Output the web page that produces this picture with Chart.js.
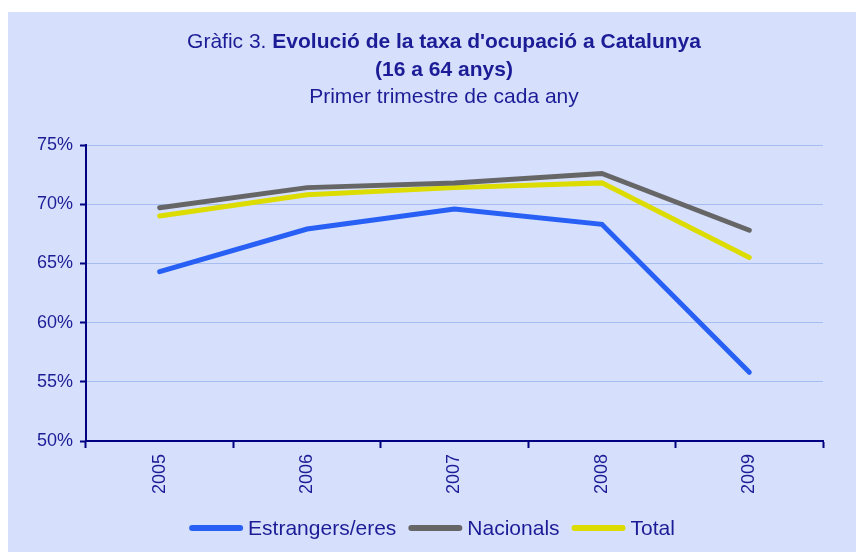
<!DOCTYPE html>
<html>
<head>
<meta charset="utf-8">
<script src="https://cdn.jsdelivr.net/npm/chart.js@4.4.1/dist/chart.umd.min.js"></script>
<style>
  html, body { margin: 0; padding: 0; background: #ffffff; }
  #wrap { width: 856px; height: 552px; position: relative; }
</style>
</head>
<body>
<div id="wrap"><canvas id="chart" width="856" height="552"></canvas></div>
<script>
// Chart data
const years = ['2005', '2006', '2007', '2008', '2009'];
const estrangers = [64.3, 67.9, 69.6, 68.3, 55.8];
const nacionals = [69.7, 71.4, 71.8, 72.6, 67.8];
const total = [69.0, 70.8, 71.4, 71.8, 65.5];
const yTicks = [50, 55, 60, 65, 70, 75];

const titlePrefix = 'Gràfic 3. ';
const titleMain = "Evolució de la taxa d'ocupació a Catalunya";
const titleLine2 = '(16 a 64 anys)';
const subtitle = 'Primer trimestre de cada any';

const FONT = '"Liberation Sans", Arial, sans-serif';
const NAVY = '#1c1c96';
const AXIS = '#000080';
const GRID = '#a6bdf2';

// Light blue panel, title block and a legend with short swatch gaps
const panelPlugin = {
  id: 'panel',
  beforeDraw(chart) {
    const ctx = chart.ctx;
    ctx.save();
    ctx.fillStyle = '#d6e0fc';
    ctx.fillRect(8, 12, chart.width - 8, chart.height - 12);
    ctx.restore();
  },
  afterDraw(chart) {
    const ctx = chart.ctx;
    const cx = 444;
    ctx.save();
    ctx.fillStyle = NAVY;
    ctx.textBaseline = 'middle';
    // first line: normal prefix + bold title
    ctx.font = '21px ' + FONT;
    const w1 = ctx.measureText(titlePrefix).width;
    ctx.font = 'bold 21px ' + FONT;
    const w2 = ctx.measureText(titleMain).width;
    const x0 = cx - (w1 + w2) / 2;
    ctx.textAlign = 'left';
    ctx.font = '21px ' + FONT;
    ctx.fillText(titlePrefix, x0, 42);
    ctx.font = 'bold 21px ' + FONT;
    ctx.fillText(titleMain, x0 + w1, 42);
    ctx.textAlign = 'center';
    ctx.fillText(titleLine2, cx, 70);
    ctx.font = '21px ' + FONT;
    ctx.fillText(subtitle, cx, 97);

    // legend
    const sw = 54, gap = 5, spacing = 12, ly = 528;
    ctx.font = '21px ' + FONT;
    const items = chart.data.datasets.map(ds => ({
      label: ds.label, color: ds.borderColor, w: ctx.measureText(ds.label).width
    }));
    const totalW = items.reduce((a, it) => a + sw + gap + it.w, 0) + spacing * (items.length - 1);
    let x = 432 - totalW / 2;
    ctx.textAlign = 'left';
    ctx.lineCap = 'round';
    ctx.lineWidth = 6;
    items.forEach(it => {
      ctx.strokeStyle = it.color;
      ctx.beginPath();
      ctx.moveTo(x + 3, ly);
      ctx.lineTo(x + sw - 3, ly);
      ctx.stroke();
      ctx.fillStyle = NAVY;
      ctx.fillText(it.label, x + sw + gap, ly + 1);
      x += sw + gap + it.w + spacing;
    });
    ctx.restore();
  }
};

function series(label, data, color) {
  return {
    label: label,
    data: data,
    borderColor: color,
    backgroundColor: color,
    borderWidth: 5,
    pointRadius: 0,
    tension: 0,
    borderCapStyle: 'round',
    borderJoinStyle: 'miter'
  };
}

new Chart(document.getElementById('chart'), {
  type: 'line',
  data: {
    labels: years,
    datasets: [
      series('Estrangers/eres', estrangers, '#2860f6'),
      series('Nacionals', nacionals, '#666666'),
      series('Total', total, '#dcdc00')
    ]
  },
  options: {
    responsive: false,
    animation: false,
    layout: { padding: { top: 145, left: 8, right: 33, bottom: 45 } },
    plugins: {
      title: { display: false },
      tooltip: { enabled: false },
      legend: { display: false }
    },
    scales: {
      x: {
        offset: true,
        grid: {
          offset: true,
          drawOnChartArea: true,
          color: (c) => (c.index === years.length ? GRID : 'rgba(0,0,0,0)'),
          tickColor: AXIS,
          tickLength: 7,
          tickWidth: 2
        },
        border: { color: AXIS, width: 2 },
        ticks: {
          color: NAVY,
          font: { family: FONT, size: 18 },
          minRotation: 90,
          maxRotation: 90,
          padding: 6
        },
        afterFit(scale) { scale.height = 66; }
      },
      y: {
        min: 50,
        max: 75,
        afterBuildTicks(scale) { scale.ticks = yTicks.map(v => ({ value: v })); },
        grid: {
          color: GRID,
          tickColor: AXIS,
          tickLength: 6,
          tickWidth: 2
        },
        border: { color: AXIS, width: 2 },
        ticks: {
          color: NAVY,
          font: { family: FONT, size: 18 },
          padding: 7,
          callback: (v) => v + '%'
        },
        afterFit(scale) { scale.width = 78; }
      }
    }
  },
  plugins: [panelPlugin]
});
</script>
</body>
</html>
